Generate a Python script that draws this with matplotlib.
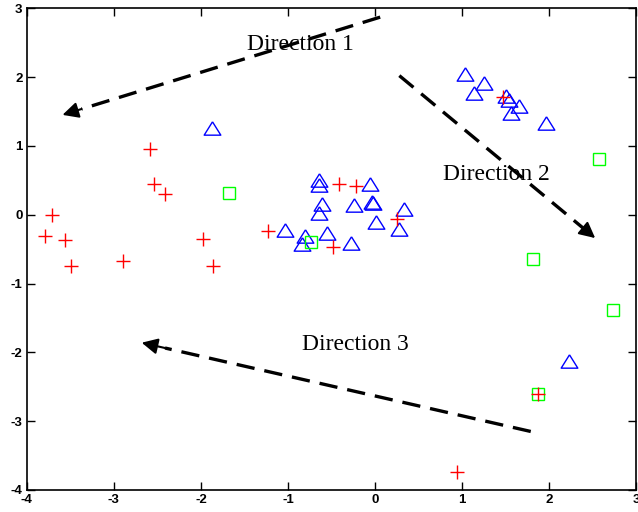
import matplotlib.pyplot as plt
import numpy as np

plt.rcParams['axes.unicode_minus'] = False

# class 1: red plus
red_x = [-2.59, -2.54, -2.41, -3.71, -3.79, -3.56, -3.49, -2.90, -1.97, -1.86,
         -1.23, -0.41, -0.22, 0.25, -0.48, 1.47, 1.87, 0.94]
red_y = [0.96, 0.445, 0.30, 0.0, -0.31, -0.37, -0.75, -0.68, -0.35, -0.75,
         -0.23, 0.44, 0.41, -0.06, -0.47, 1.71, -2.60, -3.74]

# class 2: blue triangles
blue_x = [-1.87, -0.64, -0.64, -0.06, -0.61, -0.64, -0.24, -0.03, -0.02, 0.33,
          0.01, 0.28, -1.03, -0.80, -0.55, -0.84, -0.28,
          1.03, 1.25, 1.14, 1.50, 1.54, 1.66, 1.56, 1.97, 2.23]
blue_y = [1.26, 0.50, 0.43, 0.45, 0.155, 0.02, 0.145, 0.19, 0.17, 0.08,
          -0.11, -0.21, -0.22, -0.31, -0.26, -0.43, -0.41,
          2.05, 1.91, 1.77, 1.73, 1.67, 1.58, 1.48, 1.33, -2.13]

# class 3: green squares
green_x = [-1.68, -0.74, 2.57, 1.82, 2.74, 1.87]
green_y = [0.31, -0.40, 0.81, -0.65, -1.38, -2.60]

# arrows: (tail, tip) and labels
arrows = [((0.06, 2.87), (-3.59, 1.45)),
          ((0.28, 2.02), (2.53, -0.34)),
          ((1.79, -3.15), (-2.68, -1.86))]
labels = ['Direction 1', 'Direction 2', 'Direction 3']
label_pos = [(-0.86, 2.47), (1.39, 0.58), (-0.23, -1.88)]

fig = plt.figure(figsize=(6.38, 5.12), dpi=100)
ax = fig.add_axes([0.042, 0.043, 0.955, 0.941])

ax.plot(red_x, red_y, '+', color='#ff0000', ms=10, mew=1.0, zorder=3)
tri = [(0, 0.8), (-1, -0.8), (1, -0.8), (0, 0.8)]
ax.plot(blue_x, blue_y, linestyle='none', marker=tri, ms=12, mfc='none',
        mec='#0000ff', mew=1.0, zorder=2)
ax.plot(green_x, green_y, 's', ms=8, mfc='none', mec='#00ff00', mew=1.0, zorder=2)

for (t0, t1), txt, pos in zip(arrows, labels, label_pos):
    t0 = np.array(t0)
    t1 = np.array(t1)
    d = t1 - t0
    mid = t0 + 0.94 * d
    ax.plot([t0[0], mid[0]], [t0[1], mid[1]], color='k', lw=2.4,
            dashes=(5.5, 3), zorder=4)
    ax.annotate('', xy=t1, xytext=mid,
                arrowprops=dict(arrowstyle='-|>', color='k', lw=1.5,
                                mutation_scale=24, shrinkA=0, shrinkB=0),
                zorder=4)
    ax.text(pos[0], pos[1], txt, family='Liberation Serif', fontsize=17,
            ha='center', va='center', zorder=5)

ax.set_xlim(-4, 3)
ax.set_ylim(-4, 3)
ax.set_xticks(range(-4, 4))
ax.set_yticks(range(-4, 4))
ax.tick_params(direction='in', length=6, width=1, top=True, right=True,
               labelsize=9.5, pad=3)
for lab in ax.get_xticklabels() + ax.get_yticklabels():
    lab.set_fontweight('bold')
    lab.set_family('Liberation Sans')
for s in ax.spines.values():
    s.set_linewidth(1.2)

fig.savefig('out.png', dpi=100)
